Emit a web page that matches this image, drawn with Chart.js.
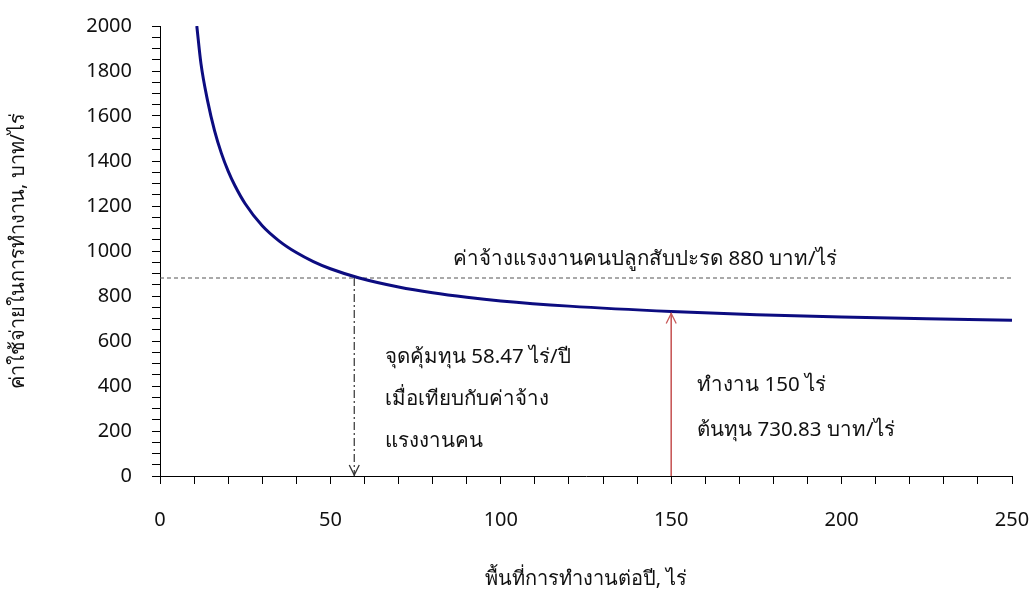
<!DOCTYPE html>
<html lang="th">
<head>
  <meta charset="UTF-8" />
  <title>ค่าใช้จ่ายในการทำงาน</title>
  <script src="https://cdn.jsdelivr.net/npm/chart.js"></script>
  <style>
    body { margin: 0; background: #fff; }
    canvas { display: block; }
  </style>
</head>
<body>
  <canvas id="grafik" width="1030" height="591"></canvas>

  <script>
    // พื้นที่ (ไร่) และค่าใช้จ่าย (บาท/ไร่) อ่านจากกราฟ
    const areaRai = [10.8, 12, 14, 16, 18, 20, 22, 25, 30, 35, 40, 45, 50, 58.47, 70, 80, 90, 100, 120, 150, 175, 200, 225, 250];
    const costBaht = [2000, 1835, 1665, 1535, 1435, 1355, 1290, 1210, 1112, 1044, 993, 953, 921, 880, 840, 814, 794, 778, 755, 731, 717, 707, 699, 692];

    // เส้นค่าจ้างแรงงานคน
    const wageX = [0, 250];
    const wageY = [880, 880];

    // จุดคุ้มทุน และจุด 150 ไร่
    const breakEvenX = [57, 57];
    const breakEvenY = [880, 0];
    const workX = [150, 150];
    const workY = [0, 730.83];

    const wageLabel = "ค่าจ้างแรงงานคนปลูกสับปะรด 880 บาท/ไร่";
    const breakEvenLines = ["จุดคุ้มทุน 58.47 ไร่/ปี", "เมื่อเทียบกับค่าจ้าง", "แรงงานคน"];
    const workLines = ["ทำงาน 150 ไร่", "ต้นทุน 730.83 บาท/ไร่"];

    const FONT = "Tahoma, 'Noto Sans', 'DejaVu Sans', sans-serif";

    const toPoints = (xs, ys) => xs.map((x, i) => ({ x, y: ys[i] }));

    // วาดหัวลูกศรและข้อความ
    const notes = {
      id: "notes",
      afterDatasetsDraw(chart) {
        const { ctx, scales: { x, y } } = chart;
        const head = (px, py, dir, color) => {
          ctx.save();
          ctx.strokeStyle = color;
          ctx.lineWidth = 1.3;
          ctx.beginPath();
          ctx.moveTo(px - 5, py - dir * 10);
          ctx.lineTo(px, py);
          ctx.lineTo(px + 5, py - dir * 10);
          ctx.stroke();
          ctx.restore();
        };
        head(x.getPixelForValue(breakEvenX[1]), y.getPixelForValue(breakEvenY[1]) - 1, 1, "#333");
        head(x.getPixelForValue(workX[1]), y.getPixelForValue(workY[1]) + 2, -1, "#c85a5a");

        ctx.save();
        ctx.fillStyle = "#111";
        ctx.font = "20.5px " + FONT;
        ctx.textBaseline = "middle";
        ctx.textAlign = "center";
        ctx.fillText(wageLabel, x.getPixelForValue(142.3), y.getPixelForValue(962));
        ctx.textAlign = "left";
        breakEvenLines.forEach((t, i) => {
          ctx.fillText(t, x.getPixelForValue(66), y.getPixelForValue(529 - i * 187));
        });
        workLines.forEach((t, i) => {
          ctx.fillText(t, x.getPixelForValue(157.6), y.getPixelForValue(404 - i * 200));
        });
        ctx.restore();
      }
    };

    new Chart(document.getElementById("grafik"), {
      type: "line",
      data: {
        datasets: [
          {
            data: toPoints(areaRai, costBaht),
            borderColor: "#0c0c80",
            borderWidth: 3,
            pointRadius: 0,
            cubicInterpolationMode: "monotone"
          },
          {
            data: toPoints(wageX, wageY),
            borderColor: "#555",
            borderWidth: 1.2,
            borderDash: [4, 3],
            pointRadius: 0
          },
          {
            data: toPoints(breakEvenX, breakEvenY),
            borderColor: "#333",
            borderWidth: 1.2,
            borderDash: [8, 3, 2, 3],
            pointRadius: 0
          },
          {
            data: toPoints(workX, workY),
            borderColor: "#c85a5a",
            borderWidth: 1.6,
            pointRadius: 0
          }
        ]
      },
      options: {
        responsive: false,
        animation: false,
        layout: { padding: { top: 26, right: 0, left: 0, bottom: 0 } },
        plugins: { legend: { display: false }, tooltip: { enabled: false } },
        scales: {
          x: {
            type: "linear",
            min: 0,
            max: 250,
            afterFit: s => { s.height = 115; s.paddingRight = 18; },
            border: { color: "#000", width: 1 },
            grid: { drawOnChartArea: false, color: "#000", tickLength: 8 },
            ticks: {
              stepSize: 10,
              autoSkip: false,
              maxRotation: 0,
              padding: 24,
              color: "#111",
              font: { family: FONT, size: 20 },
              callback: v => (v % 50 === 0 ? v : "")
            },
            title: {
              display: true,
              text: "พื้นที่การทำงานต่อปี, ไร่",
              color: "#111",
              font: { family: FONT, size: 20 },
              padding: { top: 20, bottom: 0 }
            }
          },
          y: {
            min: 0,
            max: 2000,
            afterFit: s => { s.width = 160; s.paddingTop = 0; },
            border: { color: "#000", width: 1 },
            grid: { drawOnChartArea: false, color: "#000", tickLength: 8 },
            ticks: {
              stepSize: 50,
              autoSkip: false,
              padding: 20,
              color: "#111",
              font: { family: FONT, size: 20 },
              callback: v => (v % 200 === 0 ? v : "")
            },
            title: {
              display: true,
              text: "ค่าใช้จ่ายในการทำงาน, บาท/ไร่",
              color: "#111",
              font: { family: FONT, size: 20 },
              padding: { top: 6, bottom: 0 }
            }
          }
        }
      },
      plugins: [notes]
    });
  </script>
</body>
</html>
